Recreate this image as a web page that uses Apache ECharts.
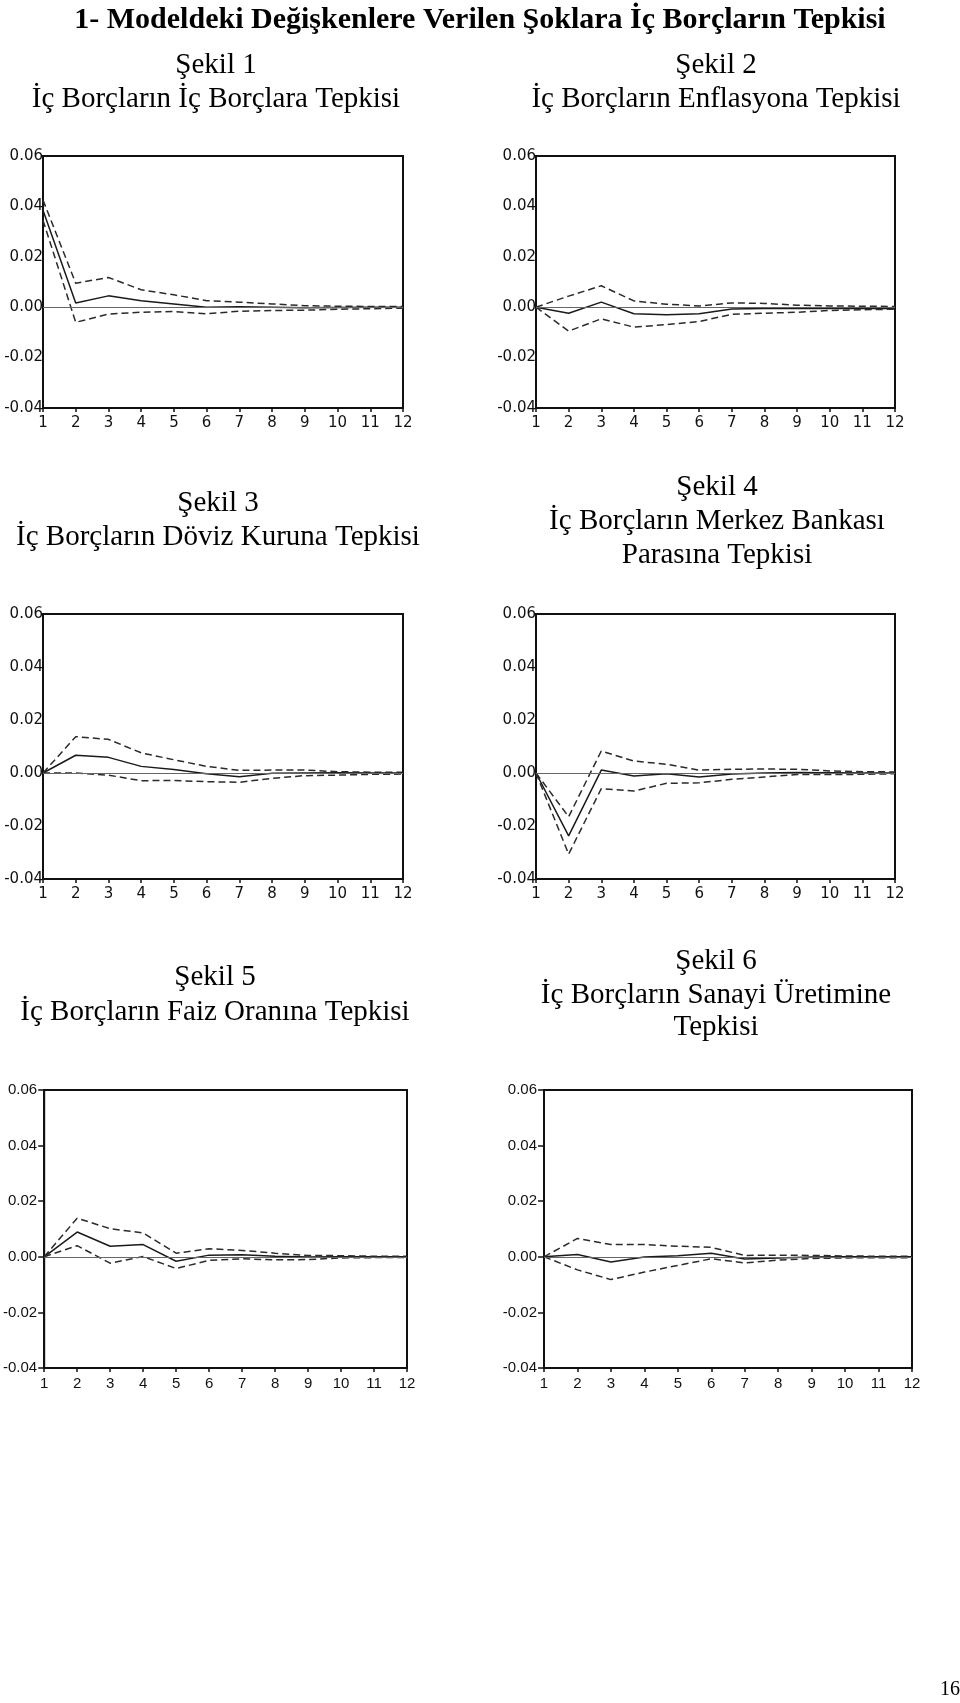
<!DOCTYPE html>
<html>
<head>
<meta charset="utf-8">
<script src="https://cdn.jsdelivr.net/npm/echarts@6/dist/echarts.min.js"></script>
<style>
html,body{margin:0;padding:0;background:#fff;}
#c{width:960px;height:1703px;}
</style>
</head>
<body>
<div id="c"></div>
<script>
// ---- data ----
const periods = ['1','2','3','4','5','6','7','8','9','10','11','12'];
const yTicks = [-0.04, -0.02, 0.00, 0.02, 0.04, 0.06];

const mainTitle = '1- Modeldeki Değişkenlere Verilen Şoklara İç Borçların Tepkisi';
const panelTitles = [
  ['Şekil 1', 'İç Borçların İç Borçlara Tepkisi'],
  ['Şekil 2', 'İç Borçların Enflasyona Tepkisi'],
  ['Şekil 3', 'İç Borçların Döviz Kuruna Tepkisi'],
  ['Şekil 4', 'İç Borçların Merkez Bankası', 'Parasına Tepkisi'],
  ['Şekil 5', 'İç Borçların Faiz Oranına Tepkisi'],
  ['Şekil 6', 'İç Borçların Sanayi Üretimine', 'Tepkisi']
];
const pageNumber = '16';

const p1Resp  = [0.0385, 0.0017, 0.0045, 0.0026, 0.0013, 0.0000, 0.0002, 0.0000, -0.0002, -0.0001, 0.0000, 0.0000];
const p1Upper = [0.0425, 0.0095, 0.0118, 0.0069, 0.0049, 0.0026, 0.0020, 0.0013, 0.0006, 0.0004, 0.0003, 0.0003];
const p1Lower = [0.0345, -0.0060, -0.0027, -0.0020, -0.0017, -0.0026, -0.0016, -0.0013, -0.0012, -0.0008, -0.0006, -0.0004];

const p2Resp  = [0, -0.0024, 0.0020, -0.0026, -0.0030, -0.0026, -0.0007, -0.0005, -0.0005, -0.0005, -0.0005, -0.0005];
const p2Upper = [0, 0.0044, 0.0085, 0.0025, 0.0012, 0.0005, 0.0017, 0.0015, 0.0008, 0.0005, 0.0004, 0.0003];
const p2Lower = [0, -0.0095, -0.0046, -0.0079, -0.0069, -0.0057, -0.0028, -0.0024, -0.0020, -0.0013, -0.0010, -0.0008];

const p3Resp  = [0, 0.0067, 0.0059, 0.0025, 0.0013, -0.0003, -0.0014, -0.0001, 0.0000, 0.0001, 0.0000, 0.0000];
const p3Upper = [0, 0.0137, 0.0127, 0.0076, 0.0050, 0.0025, 0.0010, 0.0011, 0.0011, 0.0005, 0.0003, 0.0003];
const p3Lower = [0, 0.0000, -0.0008, -0.0029, -0.0028, -0.0033, -0.0035, -0.0020, -0.0010, -0.0008, -0.0005, -0.0004];

const p4Resp  = [0, -0.0237, 0.0011, -0.0011, -0.0003, -0.0015, -0.0004, 0.0000, 0.0002, 0.0001, 0.0000, 0.0000];
const p4Upper = [0, -0.0165, 0.0083, 0.0045, 0.0033, 0.0011, 0.0014, 0.0015, 0.0014, 0.0008, 0.0005, 0.0004];
const p4Lower = [0, -0.0306, -0.0059, -0.0068, -0.0039, -0.0037, -0.0024, -0.0015, -0.0006, -0.0006, -0.0005, -0.0003];

const p5Resp  = [0, 0.0089, 0.0038, 0.0044, -0.0016, 0.0006, 0.0007, 0.0002, -0.0001, 0.0000, 0.0000, 0.0000];
const p5Upper = [0, 0.0139, 0.0101, 0.0086, 0.0013, 0.0029, 0.0023, 0.0013, 0.0005, 0.0004, 0.0002, 0.0002];
const p5Lower = [0, 0.0040, -0.0023, 0.0001, -0.0042, -0.0013, -0.0007, -0.0011, -0.0010, -0.0004, -0.0003, -0.0002];

const p6Resp  = [0, 0.0008, -0.0019, -0.0001, 0.0004, 0.0013, -0.0008, -0.0004, -0.0001, 0.0000, 0.0000, 0.0000];
const p6Upper = [0, 0.0066, 0.0044, 0.0044, 0.0038, 0.0034, 0.0005, 0.0006, 0.0005, 0.0003, 0.0002, 0.0002];
const p6Lower = [0, -0.0047, -0.0082, -0.0055, -0.0031, -0.0007, -0.0022, -0.0012, -0.0006, -0.0004, -0.0003, -0.0003];

const panelData = [
  [p1Resp, p1Upper, p1Lower],
  [p2Resp, p2Upper, p2Lower],
  [p3Resp, p3Upper, p3Lower],
  [p4Resp, p4Upper, p4Lower],
  [p5Resp, p5Upper, p5Lower],
  [p6Resp, p6Upper, p6Lower]
];

// ---- layout ----
const grids = [
  {left: 43, top: 156, width: 360, height: 252},
  {left: 536, top: 156, width: 359, height: 252},
  {left: 43, top: 614, width: 360, height: 265},
  {left: 536, top: 614, width: 359, height: 265},
  {left: 40, top: 1090, width: 367, height: 278},
  {left: 544, top: 1090, width: 368, height: 278}
];
const titleX = [216, 716, 218, 717, 215, 716];
const titleY = [[65, 99], [65, 99], [503, 537], [487, 521, 555], [977, 1012], [961, 995, 1027]];

const serif = '"Liberation Serif", "Times New Roman", serif';
const sans = '"Liberation Sans", Arial, sans-serif';
const wideSans = '"DejaVu Sans", Verdana, sans-serif';

const option = {
  animation: false,
  backgroundColor: '#fff',
  grid: grids.map(g => Object.assign({show: true, borderColor: '#111', borderWidth: 2, backgroundColor: 'transparent'}, g)),
  xAxis: grids.map((g, i) => ({
    type: 'category', gridIndex: i, data: periods, boundaryGap: false,
    axisLine: {onZero: false, lineStyle: {color: '#111', width: 2}},
    axisTick: {show: true, length: 4, lineStyle: {color: '#111', width: 1.5}},
    axisLabel: {color: '#111', fontFamily: i >= 4 ? sans : wideSans, fontSize: 15, margin: 8, interval: 0},
    splitLine: {show: false}
  })),
  yAxis: grids.map((g, i) => ({
    type: 'value', gridIndex: i, min: -0.04, max: 0.06, interval: 0.02,
    axisLine: {show: true, onZero: false, lineStyle: {color: '#111', width: 2}},
    axisTick: {show: i >= 4, length: 6, lineStyle: {color: '#111', width: 1.5}},
    axisLabel: {color: '#111', fontFamily: i >= 4 ? sans : wideSans, fontSize: 15,
      margin: i >= 4 ? 7 : 0, formatter: v => v.toFixed(2)},
    splitLine: {show: false}
  })),
  series: [],
  graphic: []
};

panelData.forEach((arr, i) => {
  const [resp, up, lo] = arr;
  option.series.push({
    type: 'line', xAxisIndex: i, yAxisIndex: i, data: resp, symbol: 'none',
    lineStyle: {color: '#1a1a1a', width: 1.5, type: 'solid'}, z: 3,
    markLine: {silent: true, symbol: 'none', label: {show: false},
      lineStyle: {color: '#666', width: 1, type: 'solid'}, data: [{yAxis: 0}]}
  });
  option.series.push({
    type: 'line', xAxisIndex: i, yAxisIndex: i, data: up, symbol: 'none',
    lineStyle: {color: '#2a2a2a', width: 1.5, type: [7, 4]}, z: 3
  });
  option.series.push({
    type: 'line', xAxisIndex: i, yAxisIndex: i, data: lo, symbol: 'none',
    lineStyle: {color: '#2a2a2a', width: 1.5, type: [7, 4]}, z: 3
  });
});

option.graphic.push({
  type: 'text', x: 480, y: 20,
  style: {text: mainTitle, font: 'bold 30px ' + serif, fill: '#000', textAlign: 'center', textVerticalAlign: 'middle'}
});
panelTitles.forEach((lines, i) => {
  lines.forEach((t, j) => {
    option.graphic.push({
      type: 'text', x: titleX[i], y: titleY[i][j],
      style: {text: t, font: '29px ' + serif, fill: '#000', textAlign: 'center', textVerticalAlign: 'middle'}
    });
  });
});
option.graphic.push({
  type: 'text', x: 950, y: 1690,
  style: {text: pageNumber, font: '20px ' + serif, fill: '#000', textAlign: 'center', textVerticalAlign: 'middle'}
});

const chart = echarts.init(document.getElementById('c'), null, {renderer: 'canvas'});
chart.setOption(option);
</script>
</body>
</html>
